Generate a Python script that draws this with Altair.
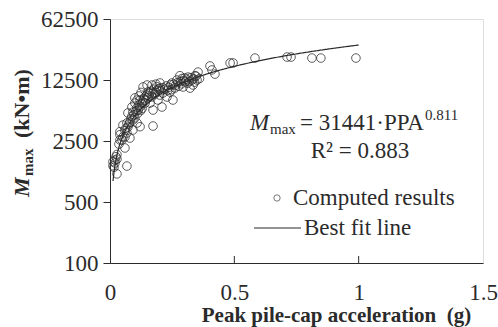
import altair as alt
import numpy as np
import pandas as pd

# Peak pile-cap acceleration (g) and maximum pile moment (kN·m) from the analyses
ppa = [
    0.012, 0.012, 0.016, 0.020, 0.020, 0.024, 0.028, 0.028, 0.028, 0.068,
    0.060, 0.040, 0.048, 0.060, 0.040, 0.052, 0.068, 0.080, 0.040, 0.036,
    0.173, 0.052, 0.068, 0.080, 0.092, 0.109, 0.121, 0.092, 0.060, 0.064,
    0.072, 0.076, 0.084, 0.088, 0.096, 0.100, 0.072, 0.092, 0.113, 0.129,
    0.100, 0.088, 0.109, 0.121, 0.141, 0.104, 0.108, 0.112, 0.116, 0.120,
    0.124, 0.128, 0.132, 0.136, 0.140, 0.144, 0.148, 0.152, 0.156, 0.160,
    0.164, 0.168, 0.133, 0.169, 0.153, 0.173, 0.189, 0.201, 0.213, 0.193,
    0.209, 0.173, 0.161, 0.229, 0.241, 0.253, 0.176, 0.180, 0.184, 0.188,
    0.196, 0.200, 0.204, 0.212, 0.220, 0.226, 0.232, 0.236, 0.244, 0.248,
    0.249, 0.269, 0.290, 0.281, 0.302, 0.314, 0.330, 0.334, 0.350, 0.354,
    0.342, 0.322, 0.294, 0.261, 0.256, 0.264, 0.272, 0.276, 0.284, 0.288,
    0.296, 0.300, 0.308, 0.312, 0.318, 0.326, 0.336, 0.340, 0.346, 0.360,
    0.402, 0.422, 0.410, 0.483, 0.495, 0.583, 0.712, 0.728, 0.812, 0.848,
    0.989, 0.149, 0.185, 0.201, 0.125, 0.117, 0.100,
]
m_max = [
    1450, 1300, 1250, 1400, 1510, 1650, 1750, 1550, 1050, 1290,
    2080, 2570, 2570, 2780, 2950, 2780, 3090, 2700, 3200, 2300,
    3710, 3800, 4020, 4100, 4350, 4020, 3650, 3340, 3300, 3500,
    3600, 3900, 4500, 4800, 5000, 4600, 5240, 5350, 5660, 5900,
    6810, 6130, 7370, 7370, 6810, 5500, 6000, 5200, 6400, 6100,
    5600, 6700, 7000, 7600, 8000, 7300, 8400, 7800, 8200, 8800,
    9300, 8000, 10400, 10950, 9100, 8870, 9600, 10100, 8870, 7370,
    6130, 5660, 6810, 7980, 9100, 7370, 9800, 8600, 9000, 10500,
    9900, 8400, 9400, 10200, 9800, 10700, 9500, 10300, 11000, 9700,
    11550, 12500, 13000, 14000, 11900, 13500, 12500, 10950, 12500, 15400,
    14000, 10100, 10400, 10100, 11200, 10900, 11700, 10600, 12000, 11300,
    12300, 13200, 12800, 11500, 12000, 13300, 12900, 11800, 13800, 13000,
    18100, 14600, 16300, 19600, 19600, 22300, 22900, 22900, 22300, 22300,
    22300, 10950, 11200, 11550, 9000, 8200, 7800,
]

# Best-fit power law M_max = a * PPA^b
fit_a = 31441
fit_b = 0.811
fit_range = [0.012, 1.0]

y_ticks = [100, 500, 2500, 12500, 62500]
x_ticks = [0, 0.5, 1, 1.5]
x_inner_ticks = [0.5, 1.0]

W, H = 373, 244
SERIF = "Liberation Serif"
INK = "#2b2b2b"

pts = pd.DataFrame({"ppa": ppa, "m": m_max})
fx = np.linspace(fit_range[0], fit_range[1], 200)
fit = pd.DataFrame({"ppa": fx, "m": fit_a * fx ** fit_b})

x_enc = alt.X(
    "ppa:Q",
    scale=alt.Scale(domain=[0, 1.5], nice=False, zero=False),
    axis=alt.Axis(
        values=x_ticks, format="~g", ticks=False, grid=False,
        labelPadding=18, labelFontSize=23, labelFont=SERIF, labelColor=INK,
        domainColor=INK, labelFlush=False,
        title="Peak pile-cap acceleration\u00a0\u00a0(g)",
        titleFont=SERIF, titleFontSize=21, titleFontWeight="bold", titleColor=INK,
        titleX=226, titleY=58, titleAlign="center", titleBaseline="alphabetic",
    ),
)
y_enc = alt.Y(
    "m:Q",
    scale=alt.Scale(type="log", base=5, domain=[100, 62500], nice=False),
    axis=alt.Axis(
        values=y_ticks, format="d", grid=False, tickSize=7, labelPadding=5,
        labelFontSize=23, labelFont=SERIF, labelColor=INK, labelFlush=False,
        domainColor=INK, tickColor=INK, title=None,
    ),
)

points = alt.Chart(pts).mark_point(
    shape="circle", filled=False, size=74, strokeWidth=0.9, color=INK, opacity=0.85
).encode(x=x_enc, y=y_enc)

line = alt.Chart(fit).mark_line(color=INK, strokeWidth=1.2).encode(
    x="ppa:Q", y="m:Q"
)

inner_ticks = alt.Chart(pd.DataFrame({"ppa": x_inner_ticks})).mark_rule(
    color=INK, strokeWidth=1
).encode(x="ppa:Q", y=alt.value(H - 7), y2=alt.value(H))

one = alt.Data(values=[{}])


def label(text, x, y, size=23, weight="normal", style="normal", angle=0,
          align="left", baseline="alphabetic"):
    return alt.Chart(one).mark_text(
        text=text, font=SERIF, fontSize=size, fontWeight=weight,
        fontStyle=style, angle=angle, align=align, baseline=baseline, color=INK,
    ).encode(x=alt.value(x), y=alt.value(y))


# rotated y-axis title: M_max (kN·m)
y_title = [
    label("M", -81, 178, size=22, weight="bold", style="italic", angle=270),
    label("max", -77, 157, size=15, weight="bold", angle=270),
    label("(kN\u2022m)", -81, 119, size=22, weight="bold", angle=270),
]

# fitted equation and coefficient of determination
equation = [
    label("M", 140, 111, style="italic"),
    label("max", 160, 115, size=15),
    label("= 31441\u00b7PPA", 190, 111),
    label("0.811", 315, 101, size=15),
    label("R\u00b2 = 0.883", 250, 139, align="center"),
]

# legend
legend = [
    alt.Chart(one).mark_point(
        shape="circle", filled=False, size=40, strokeWidth=0.9, color=INK
    ).encode(x=alt.value(167), y=alt.value(179)),
    label("Computed results", 183, 179, baseline="middle"),
    alt.Chart(one).mark_rule(color=INK, strokeWidth=1.2).encode(
        x=alt.value(144), x2=alt.value(191), y=alt.value(209)
    ),
    label("Best fit line", 194, 209, baseline="middle"),
]

chart = alt.layer(
    points, line, inner_ticks, *y_title, *equation, *legend
).properties(
    width=W, height=H,
    autosize=alt.AutoSizeParams(type="none"),
    padding={"left": 110, "top": 19, "right": 15, "bottom": 64},
).configure_view(stroke=INK, strokeWidth=1).configure(background="white")

chart.save("out.html", embed_options={"renderer": "svg", "actions": False})
